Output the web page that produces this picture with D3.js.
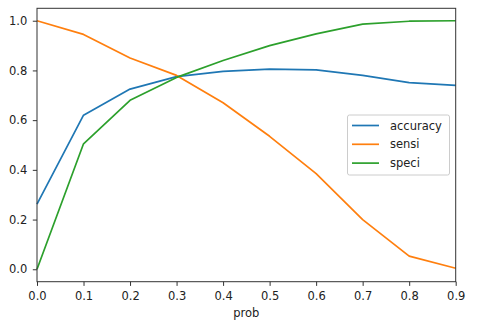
<!DOCTYPE html>
<html><head><meta charset="utf-8">
<script src="https://cdn.jsdelivr.net/npm/d3@7"></script>
<style>body{margin:0;background:#fff;} text{font-family:"DejaVu Sans",sans-serif;}</style>
</head><body>
<svg id="chart" width="482" height="326"></svg>
<script>
const probs = [0.0,0.1,0.2,0.3,0.4,0.5,0.6,0.7,0.8,0.9];
const accuracy = [0.262,0.62,0.725,0.775,0.796,0.805,0.802,0.78,0.751,0.74];
const sensi = [1.0,0.945,0.85,0.78,0.67,0.535,0.385,0.2,0.053,0.004];
const speci = [0.0,0.505,0.68,0.772,0.84,0.90,0.947,0.986,0.998,1.0];
const xTicks = [0.0,0.1,0.2,0.3,0.4,0.5,0.6,0.7,0.8,0.9];
const yTicks = [0.0,0.2,0.4,0.6,0.8,1.0];
const seriesNames = ["accuracy","sensi","speci"];
const colors = ["#1f77b4","#ff7f0e","#2ca02c"];

const FS = 11.5;
const L=37, R=455.7, T=8.3, B=281.7;
const svg = d3.select("#chart");
const x = d3.scaleLinear().domain([0,0.9]).range([L,R]);
const y = d3.scaleLinear().domain([-0.05,1.05]).range([B,T]);

const series=[accuracy,sensi,speci];
const line = d3.line().x((d,i)=>x(probs[i])).y(d=>y(d));
series.forEach((s,k)=>{
  svg.append("path").datum(s).attr("d",line).attr("fill","none")
    .attr("stroke",colors[k]).attr("stroke-width",1.7).attr("stroke-linejoin","round");
});

const xa = svg.append("g").attr("transform",`translate(0,${B})`)
  .call(d3.axisBottom(x).tickValues(xTicks).tickFormat(d3.format(".1f")).tickSize(4.2).tickPadding(6));
const ya = svg.append("g").attr("transform",`translate(${L},0)`)
  .call(d3.axisLeft(y).tickValues(yTicks).tickFormat(d3.format(".1f")).tickSize(4.2).tickPadding(5.5));
[xa,ya].forEach(a=>{a.select(".domain").remove(); a.selectAll("text").attr("font-size",FS).attr("fill","#222").style("font-family","DejaVu Sans");
  a.selectAll("line").attr("stroke","#333").attr("stroke-width",1);});

svg.append("rect").attr("x",L).attr("y",T).attr("width",R-L).attr("height",B-T)
  .attr("fill","none").attr("stroke","#333").attr("stroke-width",1);

svg.append("text").attr("x",(L+R)/2).attr("y",317).attr("text-anchor","middle")
  .attr("font-size",FS).attr("fill","#222").text("prob");

const lg = svg.append("g");
lg.append("rect").attr("x",347.5).attr("y",115).attr("width",102).attr("height",60).attr("rx",2)
  .attr("fill","#fff").attr("fill-opacity",0.8).attr("stroke","#ccc").attr("stroke-width",1);
seriesNames.forEach((n,k)=>{
  const yy=125.5+k*18.8;
  lg.append("line").attr("x1",352).attr("x2",379).attr("y1",yy).attr("y2",yy)
    .attr("stroke",colors[k]).attr("stroke-width",1.7);
  lg.append("text").attr("x",390).attr("y",yy+4).attr("font-size",FS).attr("fill","#222").text(n);
});
</script>
</body></html>
